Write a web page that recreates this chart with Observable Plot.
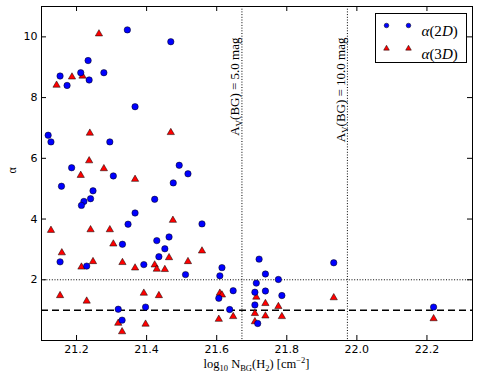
<!DOCTYPE html>
<html>
<head>
<meta charset="utf-8">
<script src="https://cdn.jsdelivr.net/npm/d3@7"></script>
<script src="https://cdn.jsdelivr.net/npm/@observablehq/plot@0.6"></script>
<style>
  html, body { margin: 0; padding: 0; background: #fff; }
  #chart { width: 479px; height: 381px; }
</style>
</head>
<body>
<div id="chart"></div>
<script>
// ---- data ----
const x2D = [21.345,21.469,21.233,21.212,21.278,21.153,21.236,21.173,21.367,21.119,21.127,21.295,21.186,21.493,21.305,21.518,21.476,21.157,21.247,21.240,21.221,21.214,21.423,21.367,21.347,21.558,21.331,21.429,21.464,21.452,21.435,21.153,21.229,21.392,21.511,21.615,21.609,21.647,21.606,21.319,21.397,21.637,21.330,21.721,21.934,21.739,21.776,21.713,21.709,21.739,21.786,21.709,21.717,22.219];
const a2D = [10.23,9.84,9.22,8.82,8.82,8.71,8.58,8.40,7.70,6.76,6.54,6.54,5.69,5.77,5.42,5.49,5.19,5.08,4.93,4.67,4.58,4.45,4.65,4.20,3.83,3.84,3.17,3.29,3.41,3.02,2.76,2.59,2.45,2.50,2.17,2.40,2.13,1.64,1.39,1.03,1.10,1.02,0.67,2.68,2.56,2.19,2.01,1.89,1.59,1.63,1.48,1.17,0.56,1.10];
const x3D = [21.264,21.143,21.187,21.217,21.238,21.469,21.236,21.278,21.212,21.367,21.127,21.240,21.295,21.475,21.305,21.158,21.558,21.247,21.214,21.331,21.464,21.518,21.367,21.423,21.429,21.452,21.153,21.229,21.392,21.435,21.609,21.615,21.319,21.330,21.397,21.606,21.647,21.713,21.739,21.776,21.934,21.709,21.739,21.786,21.709,22.219];
const a3D = [10.10,8.41,8.68,8.71,6.83,6.85,5.92,5.66,5.44,5.31,3.63,3.65,3.65,3.96,3.18,2.89,2.95,2.60,2.42,2.57,2.73,2.60,2.39,2.49,2.35,2.34,1.48,1.30,1.56,1.48,1.56,1.50,0.57,0.29,0.54,0.70,0.79,1.43,1.22,1.12,1.41,0.89,0.81,0.79,0.62,0.72];
const xTicks = [21.2, 21.4, 21.6, 21.8, 22.0, 22.2];
const yTicks = [2, 4, 6, 8, 10];
const avMag = ["5.0", "10.0"];
const avLogN = [21.672, 21.973];
const dashedLevel = [1];
const dottedLevel = [2];
const seriesNames = ["α(2D)", "α(3D)"];
const seriesColors = ["#0000ff", "#ff0000"];
const seriesSymbols = ["circle", "triangle"];

const pts2D = x2D.map((x, i) => ({x, a: a2D[i]}));
const pts3D = x3D.map((x, i) => ({x, a: a3D[i]}));

const W = 479, H = 381;
const mL = 41, mR = 7, mT = 6, mB = 41;
const fw = W - mL - mR, fh = H - mT - mB;
const tl = 5;
const serif = "'Liberation Serif', 'DejaVu Serif', serif";

// legend geometry (pixels inside the frame)
const legL = 375 - mL, legR = mL + fw - 466, legT = 13 - mT, legB = mT + fh - 62;
const legRowDy = [25 - mT, 48 - mT];
const legMarkDx = [386 - mL, 408 - mL];
const legTextDx = 421 - mL;

const legendMarks = [];
seriesNames.forEach((name, i) => {
  legMarkDx.forEach(dx => {
    legendMarks.push(Plot.dot([name], {frameAnchor: "top-left", dx, dy: legRowDy[i],
      symbol: seriesSymbols[i], r: i === 0 ? 2.3 : 2.1, fill: seriesColors[i], stroke: "#000", strokeWidth: 0.5}));
  });
  legendMarks.push(Plot.text([name], {frameAnchor: "top-left", dx: legTextDx, dy: legRowDy[i],
    text: d => d, textAnchor: "start", fontFamily: serif, fontSize: 15, fill: "#000"}));
});

const svg = Plot.plot({
  width: W, height: H,
  marginLeft: mL, marginRight: mR, marginTop: mT, marginBottom: mB,
  style: {fontFamily: "'DejaVu Sans', sans-serif", fontSize: "11px", background: "#fff", color: "#000"},
  x: {domain: [21.1, 22.33]},
  y: {domain: [0, 11]},
  marks: [
    Plot.ruleY(dashedLevel, {stroke: "#000", strokeWidth: 1.5, strokeDasharray: "7,4"}),
    Plot.ruleY(dottedLevel, {stroke: "#000", strokeWidth: 1, strokeDasharray: "1,1.7"}),
    Plot.ruleX(avLogN, {stroke: "#000", strokeWidth: 1, strokeDasharray: "1,1.7"}),
    Plot.text(avLogN, {x: d => d, frameAnchor: "top", dy: 31, dx: -12, rotate: -90, textAnchor: "end",
      text: (d, i) => `AV(BG) = ${avMag[i]} mag`, fontFamily: serif, fontSize: 13, fill: "#000"}),
    Plot.dot(pts3D, {x: "x", y: "a", symbol: "triangle", r: 2.7, fill: "#ff0000", stroke: "#000", strokeWidth: 0.5}),
    Plot.dot(pts2D, {x: "x", y: "a", symbol: "circle", r: 3.2, fill: "#0000ff", stroke: "#000", strokeWidth: 0.5}),
    Plot.frame({stroke: "#000", strokeWidth: 1}),
    Plot.tickX(xTicks, {x: d => d, insetTop: fh - tl, stroke: "#000"}),
    Plot.tickX(xTicks, {x: d => d, insetBottom: fh - tl, stroke: "#000"}),
    Plot.tickY(yTicks, {y: d => d, insetRight: fw - tl, stroke: "#000"}),
    Plot.tickY(yTicks, {y: d => d, insetLeft: fw - tl, stroke: "#000"}),
    Plot.axisX(xTicks, {tickSize: 0, tickPadding: 5, tickFormat: d3.format(".1f"), label: null, fontSize: 11}),
    Plot.axisY(yTicks, {tickSize: 0, tickPadding: 4, tickFormat: d => String(d), label: null, fontSize: 11}),
    Plot.text(["α"], {frameAnchor: "left", dx: -29, rotate: -90, fontFamily: serif, fontSize: 12, fill: "#000"}),
    // legend box
    Plot.frame({insetLeft: legL, insetRight: legR, insetTop: legT, insetBottom: legB, fill: "#fff", stroke: "#000", strokeWidth: 1}),
    ...legendMarks
  ]
});

const root = d3.select(svg);
// rich text: subscript V in the A_V labels, italic math in legend labels
root.selectAll("text").each(function() {
  const t = d3.select(this);
  const s = this.textContent;
  let m;
  if ((m = s.match(/^AV\(BG\) = (\S+) mag$/))) {
    t.selectAll("*").remove();
    t.text(null);
    t.append("tspan").text("A");
    t.append("tspan").attr("dy", 3).attr("font-size", "9px").text("V");
    t.append("tspan").attr("dy", -3).text(`(BG) = ${m[1]} mag`);
  } else if ((m = s.match(/^α\((\d)D\)$/))) {
    t.selectAll("*").remove();
    t.text(null);
    t.append("tspan").attr("font-style", "italic").text("α");
    t.append("tspan").text("(" + m[1]);
    t.append("tspan").attr("font-style", "italic").text("D");
    t.append("tspan").text(")");
  }
});

// x axis title with sub/superscripts
const xt = root.append("text")
  .attr("x", mL + fw / 2).attr("y", 368)
  .attr("text-anchor", "middle")
  .attr("font-family", serif).attr("font-size", "12.5px").attr("fill", "#000");
xt.append("tspan").text("log");
xt.append("tspan").attr("dy", 3).attr("font-size", "8.5px").text("10");
xt.append("tspan").attr("dy", -3).text(" N");
xt.append("tspan").attr("dy", 3).attr("font-size", "8.5px").text("BG");
xt.append("tspan").attr("dy", -3).text("(H");
xt.append("tspan").attr("dy", 3).attr("font-size", "8.5px").text("2");
xt.append("tspan").attr("dy", -3).text(") [cm");
xt.append("tspan").attr("dy", -5).attr("font-size", "8.5px").text("−2");
xt.append("tspan").attr("dy", 5).text("]");

document.getElementById("chart").appendChild(svg);
</script>
</body>
</html>
